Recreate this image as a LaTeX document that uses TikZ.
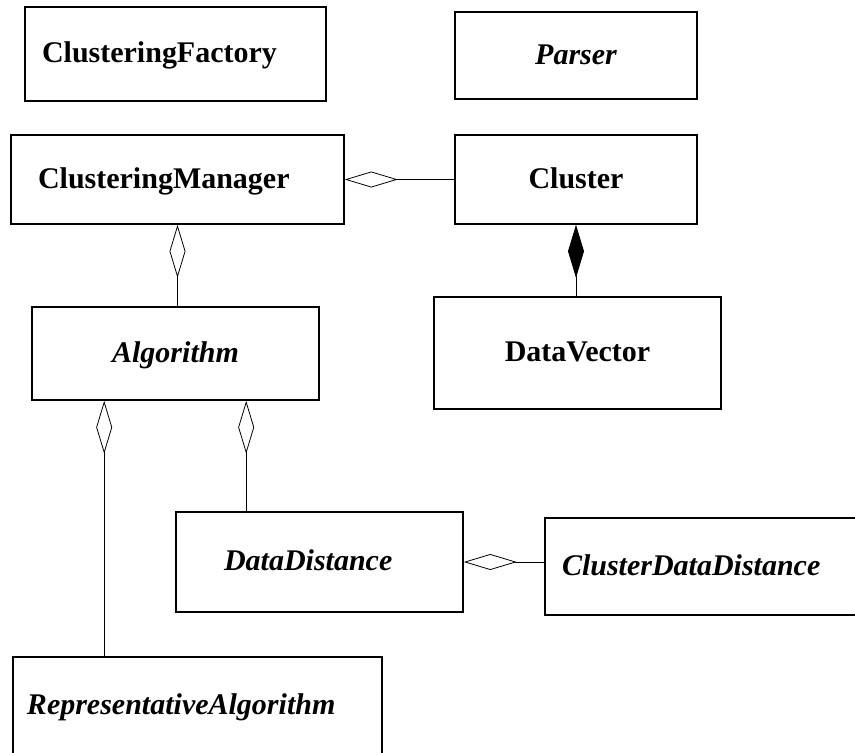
\documentclass[tikz,border=0pt]{standalone}
\usepackage{fontspec}
\setmainfont{Liberation Serif}
\usetikzlibrary{arrows.meta,calc}
\begin{document}
\begin{tikzpicture}[x=1pt,y=-1pt,
  cls/.style={draw,line width=1.6pt,inner sep=0pt,text height=21pt,text depth=4pt,font=\fontsize{30}{36}\selectfont\bfseries},
  abst/.style={cls,font=\fontsize{30}{36}\selectfont\bfseries\itshape},
  aggr/.style={{Diamond[open,length=53pt,width=16pt]}-,line width=0.8pt},
  comp/.style={{Diamond[length=53pt,width=16pt]}-,line width=0.8pt}]
  \useasboundingbox (0,0) rectangle (855,753);
	\node[cls,minimum height=94pt,text width=267pt,inner xsep=17pt,align=left] (factory) at (175.5,54) {ClusteringFactory};
	\node[abst,minimum width=242pt,minimum height=87pt,align=center] (parser) at (576,55.5) {Parser};
	\node[cls,minimum height=89pt,text width=279pt,inner xsep=27pt,align=left] (manager) at (177.5,179.5) {ClusteringManager};
	\node[cls,minimum width=242pt,minimum height=89pt,align=center] (cluster) at (576,179.5) {Cluster};
	\node[cls,minimum width=287pt,minimum height=112pt,align=center] (vector) at (577.5,353) {DataVector};
	\node[abst,minimum width=287pt,minimum height=93pt,align=center] (algo) at (175.5,353.5) {Algorithm};
	\node[abst,minimum height=100pt,text width=191pt,inner xsep=48pt,align=left] (ddist) at (319.5,562) {DataDistance};
	\node[abst,minimum height=97pt,text width=301pt,inner xsep=17pt,align=left] (cddist) at (712.5,566.5) {ClusterDataDistance};
	\node[abst,minimum height=98pt,text width=341pt,inner xsep=14pt,align=left] (repalg) at (197.5,706) {RepresentativeAlgorithm};
	% associations
	\draw[aggr] (manager.east) -- (cluster.west);
	\draw[aggr] (manager.south) -- (manager.south |- algo.north);
	\draw[comp] (cluster.south) -- (cluster.south |- vector.north);
	\draw[aggr] ([xshift=73pt]algo.south west) -- ([xshift=73pt]algo.south west |- repalg.north);
	\draw[aggr] ([xshift=71pt]ddist.north west |- algo.south) -- ([xshift=71pt]ddist.north west);
	\draw[aggr] (ddist.east) -- (ddist.east -| cddist.west);
\end{tikzpicture}
\end{document}
